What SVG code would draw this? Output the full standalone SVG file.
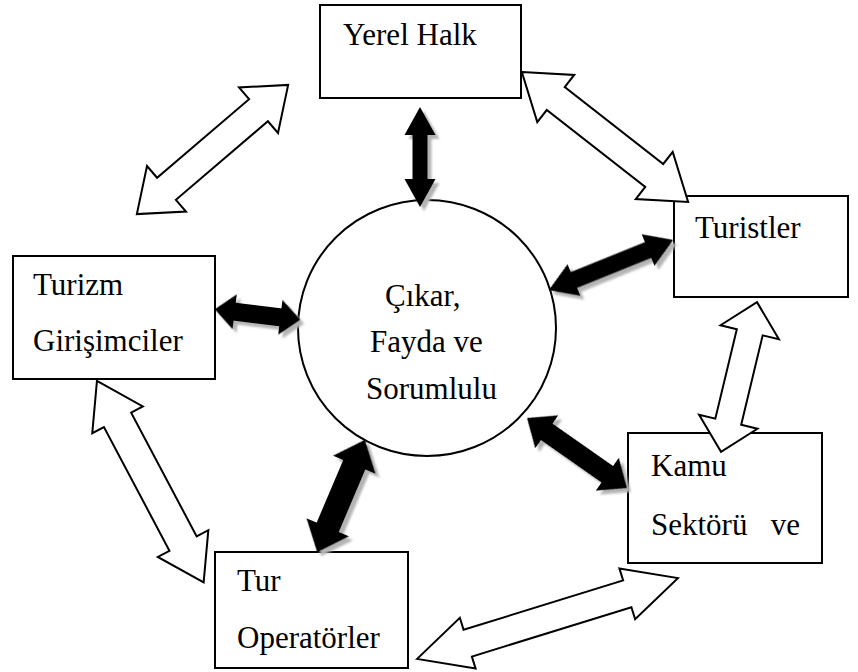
<svg xmlns="http://www.w3.org/2000/svg" xmlns:xlink="http://www.w3.org/1999/xlink" width="858" height="672" viewBox="0 0 858 672">
  <style>
    .box { fill: #ffffff; stroke: #000000; stroke-width: 2; }
    .hub { fill: #ffffff; stroke: #000000; stroke-width: 2; }
    text { font-family: 'Liberation Serif', 'Times New Roman', 'DejaVu Serif', serif; font-size: 31px; fill: #000000; }
    .open { fill: #ffffff; stroke: #000000; stroke-width: 2; stroke-linejoin: miter; }
    .solid { fill: #000000; }
    .shadow { fill: #b4b4b4; }
  </style>
  <defs>
    <filter id="soft" x="-20%" y="-20%" width="140%" height="140%">
      <feGaussianBlur stdDeviation="0.8"/>
    </filter>
    <!-- thick double-headed arrows, drawn along x and rotated into place -->
    <path id="b1" transform="translate(420,157) rotate(90)" d="M-50 0 L-22 -15.5 L-22 -7.5 L22 -7.5 L22 -15.5 L50 0 L22 15.5 L22 7.5 L-22 7.5 L-22 15.5 Z"/>
    <path id="b2" transform="translate(257.5,314.5) rotate(7)" d="M-43 0 L-23 -17.5 L-23 -9 L23 -9 L23 -17.5 L43 0 L23 17.5 L23 9 L-23 9 L-23 17.5 Z"/>
    <path id="b3" transform="translate(611,265) rotate(-22)" d="M-67 0 L-40 -17 L-40 -8.5 L40 -8.5 L40 -17 L67 0 L40 17 L40 8.5 L-40 8.5 L-40 17 Z"/>
    <path id="b4" transform="translate(341,496) rotate(113)" d="M-61 0 L-34 -23 L-34 -12 L34 -12 L34 -23 L61 0 L34 23 L34 12 L-34 12 L-34 23 Z"/>
    <path id="b5" transform="translate(577,453) rotate(35)" d="M-61 0 L-37 -20 L-37 -10 L37 -10 L37 -20 L61 0 L37 20 L37 10 L-37 10 L-37 20 Z"/>
  </defs>

  <!-- central ellipse -->
  <g id="hub" font-family="Liberation Serif, serif">
    <ellipse class="hub" cx="427" cy="328" rx="129" ry="128"/>
    <text x="385" y="306">Çıkar,</text>
    <text x="370" y="352">Fayda ve</text>
    <text x="366" y="399">Sorumlulu</text>
  </g>

  <g id="yerel-halk" font-family="Liberation Serif, serif">
    <rect class="box" x="320" y="5" width="201" height="93"/>
    <text x="343" y="45">Yerel Halk</text>
  </g>

  <g id="turistler" font-family="Liberation Serif, serif">
    <rect class="box" x="674" y="196" width="174" height="101"/>
    <text x="695" y="238">Turistler</text>
  </g>

  <g id="turizm-girisimciler" font-family="Liberation Serif, serif">
    <rect class="box" x="13" y="256" width="202" height="123"/>
    <text x="33" y="295">Turizm</text>
    <text x="33" y="351">Girişimciler</text>
  </g>

  <g id="kamu-sektoru" font-family="Liberation Serif, serif">
    <rect class="box" x="628" y="433" width="194" height="130"/>
    <text x="651" y="476">Kamu</text>
    <text x="651" y="535" xml:space="preserve">Sektörü   ve</text>
  </g>

  <g id="tur-operatorler" font-family="Liberation Serif, serif">
    <rect class="box" x="215" y="552" width="193" height="116"/>
    <text x="237" y="591">Tur</text>
    <text x="237" y="648">Operatörler</text>
  </g>

  <g id="connectors">
    <!-- outlined arrows between neighbouring stakeholders -->
    <path class="open" transform="translate(212.5,149.5) rotate(-40.5)" d="M-99.5 0 L-60.5 -30 L-60.5 -14.5 L60.5 -14.5 L60.5 -30 L99.5 0 L60.5 30 L60.5 14.5 L-60.5 14.5 L-60.5 30 Z"/>
    <path class="open" transform="translate(605,137) rotate(38)" d="M-105.5 0 L-62.5 -30 L-62.5 -14.6 L62.5 -14.6 L62.5 -30 L105.5 0 L62.5 30 L62.5 14.6 L-62.5 14.6 L-62.5 30 Z"/>
    <path class="open" transform="translate(150.3,481.7) rotate(62.1)" d="M-114 0 L-70 -28.6 L-70 -15.4 L70 -15.4 L70 -28.6 L114 0 L70 28.6 L70 15.4 L-70 15.4 L-70 28.6 Z"/>
    <path class="open" transform="translate(739,377) rotate(103.5)" d="M-77 0 L-46 -30 L-46 -13.3 L46 -13.3 L46 -30 L77 0 L46 30 L46 13.3 L-46 13.3 L-46 30 Z"/>
    <path class="open" transform="translate(547.5,618.5) rotate(-17.2)" d="M-136.5 0 L-83.5 -26.6 L-83.5 -14 L83.5 -14 L83.5 -26.6 L136.5 0 L83.5 26.6 L83.5 14 L-83.5 14 L-83.5 26.6 Z"/>

    <!-- solid arrows to the centre, each with a soft grey drop shadow -->
    <g filter="url(#soft)">
      <use xlink:href="#b1" class="shadow" transform="translate(4,4)"/>
      <use xlink:href="#b2" class="shadow" transform="translate(4,4)"/>
      <use xlink:href="#b3" class="shadow" transform="translate(4,4)"/>
      <use xlink:href="#b4" class="shadow" transform="translate(4,4)"/>
      <use xlink:href="#b5" class="shadow" transform="translate(4,4)"/>
    </g>
    <use xlink:href="#b1" class="solid"/>
    <use xlink:href="#b2" class="solid"/>
    <use xlink:href="#b3" class="solid"/>
    <use xlink:href="#b4" class="solid"/>
    <use xlink:href="#b5" class="solid"/>
  </g>
</svg>
